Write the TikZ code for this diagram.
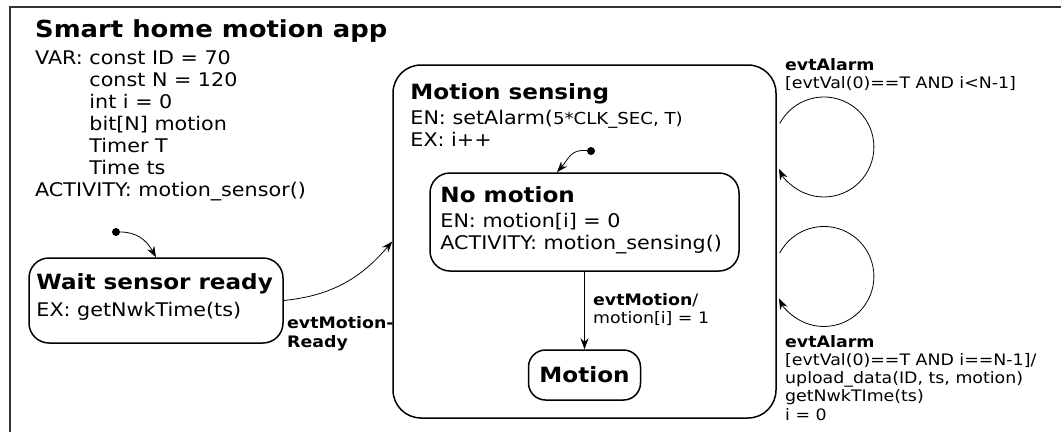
\documentclass[tikz,border=0pt]{standalone}
\usepackage{fontspec}
\setmainfont{DejaVu Sans}[FakeStretch=1.1]
\usetikzlibrary{arrows.meta}

\tikzset{
  state/.style={draw, line width=1.5pt, rounded corners=20pt, inner sep=0pt},
  trans/.style={-{Stealth[length=11pt,width=8pt]}, line width=0.8pt},
  initdot/.style={circle, fill, inner sep=0pt, minimum size=8pt},
  body/.style={inner sep=0pt, anchor=base west, font=\fontsize{18.8}{22}\selectfont},
  small/.style={inner sep=0pt, anchor=base west, font=\fontsize{15.8}{18.3}\selectfont},
  heading/.style={inner sep=0pt, anchor=base west, font=\fontsize{21}{24}\selectfont\bfseries},
}
\newcommand{\txtlines}[1]{\begin{tabular}[t]{@{}l@{}}#1\end{tabular}}

\begin{document}
\begin{tikzpicture}[x=1pt, y=-1pt]
\useasboundingbox (0,0) rectangle (1061,432);
% app frame
\draw[line width=2pt, black!80] (1061,7) -- (10,7) -- (10,432);
\node[heading, font=\fontsize{23.5}{26}\selectfont\bfseries] (app) at (35,37) {Smart home motion app};
\node[body] (appvar) at (35,64) {\txtlines{VAR: const ID = 70\\
  \phantom{VAR: }const N = 120\\
  \phantom{VAR: }int i = 0\\
  \phantom{VAR: }bit[N] motion\\
  \phantom{VAR: }Timer T\\
  \phantom{VAR: }Time ts\\
  ACTIVITY: motion\_sensor()}};

% states
\node[state, minimum width=254pt, minimum height=85pt] (wait) at (156,300.5) {};
\node[heading] (waitttl) at ([shift={(8,32)}]wait.north west) {Wait sensor ready};
\node[body] (waitbody) at ([shift={(8,59)}]wait.north west) {EX: getNwkTime(ts)};

\node[state, rounded corners=28pt, minimum width=383pt, minimum height=353pt] (ms) at (584.5,241.5) {};
\node[heading] (msttl) at ([shift={(18,35)}]ms.north west) {Motion sensing};
\node[body] (msbody) at ([shift={(18,60)}]ms.north west)
  {\txtlines{EN: setAlarm({\fontsize{16.5}{18}\selectfont 5*CLK\_SEC, T)}\\ EX: i++}};

\node[state, minimum width=309pt, minimum height=98pt] (nm) at (584.5,222) {};
\node[heading] (nmttl) at ([shift={(11,30)}]nm.north west) {No motion};
\node[body] (nmbody) at ([shift={(11,55)}]nm.north west)
  {\txtlines{EN: motion[i] = 0\\ ACTIVITY: motion\_sensing()}};

\node[state, rounded corners=17pt, minimum width=112pt, minimum height=50pt,
  font=\fontsize{21}{24}\selectfont\bfseries] (mot) at (584.5,375) {Motion};

% transitions
\node[initdot] (init) at (116,232) {};
\draw[trans] (init) .. controls +(20,0) and +(-10,-18) .. (wait.north);

\draw[trans] (wait.east) .. controls +(50,-5) and +(-30,35) .. (ms.west);
\node[small, font=\fontsize{15.8}{19}\selectfont\bfseries] (ready) at (287,328)
  {\txtlines{evtMotion-\\ Ready}};

\node[initdot] (nminit) at (591,151) {};
\draw[trans] (nminit) .. controls +(-20,-2) and +(12,-14) .. ([xshift=-27.5pt]nm.north);

\draw[trans] (nm.south) -- (mot.north);
\node[small] (motlbl) at (593,305) {\txtlines{\textbf{evtMotion}/\\ motion[i] = 1}};

% alarm loops
\draw[trans] ([xshift=3pt, yshift=118pt]ms.east) arc[start angle=-152, end angle=154, radius=50];
\node[small] (alarm1) at (785,70)
  {\txtlines{\textbf{evtAlarm}\\ {[}evtVal(0)==T AND i<N-1]}};

\draw[trans] ([xshift=3pt, yshift=-11.5pt]ms.east) arc[start angle=-152, end angle=154, radius=50];
\node[small] (alarm2) at (785,347)
  {\txtlines{\textbf{evtAlarm}\\ {[}evtVal(0)==T AND i==N-1]/\\ upload\_data(ID, ts, motion)\\
   getNwkTIme(ts)\\ i = 0}};
\end{tikzpicture}
\end{document}
